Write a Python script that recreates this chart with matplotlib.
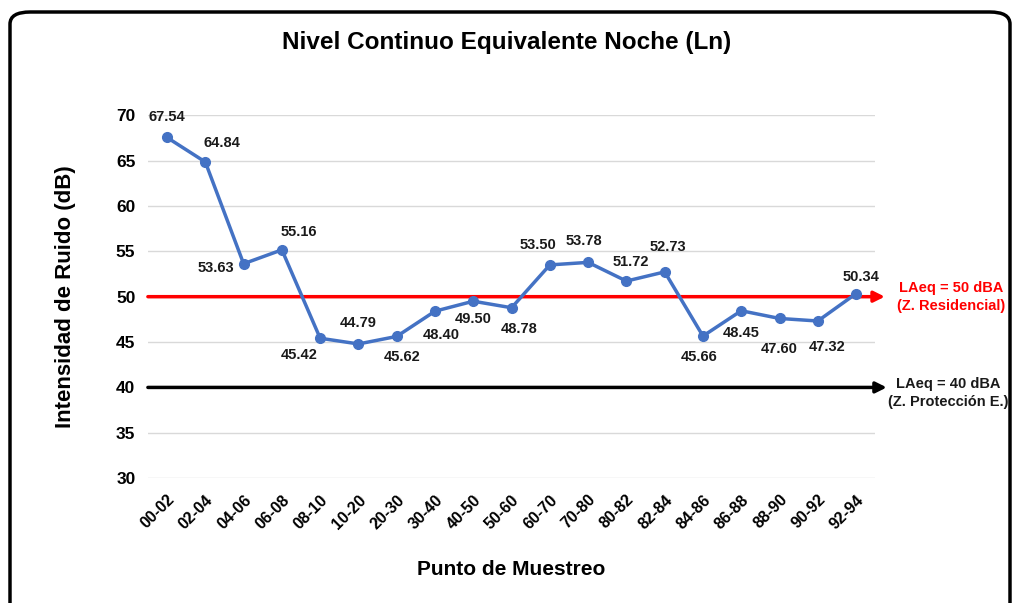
import matplotlib
matplotlib.use("Agg")
import matplotlib.pyplot as plt
from matplotlib.patches import FancyBboxPatch

plt.rcParams['font.family'] = ['Liberation Sans', 'DejaVu Sans']
plt.rcParams['font.weight'] = 'bold'

puntos = ['00-02', '02-04', '04-06', '06-08', '08-10', '10-20', '20-30', '30-40',
          '40-50', '50-60', '60-70', '70-80', '80-82', '82-84', '84-86', '86-88',
          '88-90', '90-92', '92-94']
ln_values = [67.54, 64.84, 53.63, 55.16, 45.42, 44.79, 45.62, 48.40, 49.50, 48.78,
             53.50, 53.78, 51.72, 52.73, 45.66, 48.45, 47.60, 47.32, 50.34]
limite_residencial = 50
limite_proteccion = 40

# label offsets in pixels (dx, dy)
offsets = [(0, 20), (17, 19), (-28, -4), (17, 18), (-21, -17), (0, 21), (5, -21),
           (6, -24), (0, -18), (8, -21), (-12, 20), (-4, 21), (4, 19), (3, 25),
           (-4, -21), (0, -22), (0, -31), (9, -26), (5, 17)]

fig = plt.figure(figsize=(10.13, 6.03), dpi=100)
ax = fig.add_axes([0.146, 0.207, 0.718, 0.602])

x = list(range(len(puntos)))
ax.plot(x, ln_values, color='#4472C4', lw=2.5, marker='o', markersize=7, zorder=3)

for xi, v, (dx, dy) in zip(x, ln_values, offsets):
    ax.annotate(f'{v:.2f}', (xi, v), xytext=(dx * 0.72, dy * 0.72),
                textcoords='offset points', ha='center', va='center',
                fontsize=10.5, fontweight='bold', color='#1a1a1a')

# limit lines with arrows
ax.annotate('', xy=(18.75, limite_residencial), xytext=(-0.5, limite_residencial),
            arrowprops=dict(arrowstyle='-|>', color='#FF0000', lw=2.5, mutation_scale=16,
                            shrinkA=0, shrinkB=0),
            annotation_clip=False, zorder=2)
ax.annotate('', xy=(18.8, limite_proteccion), xytext=(-0.5, limite_proteccion),
            arrowprops=dict(arrowstyle='-|>', color='black', lw=2.5, mutation_scale=16,
                            shrinkA=0, shrinkB=0),
            annotation_clip=False, zorder=2)

fig.text(951 / 1013, 1 - 297 / 603, 'LAeq = 50 dBA\n(Z. Residencial)', color='#FF0000',
         ha='center', va='center', fontsize=10.5, fontweight='bold', linespacing=1.3)
fig.text(948 / 1013, 1 - 393 / 603, 'LAeq = 40 dBA\n(Z. Protección E.)', color='#1a1a1a',
         ha='center', va='center', fontsize=10.5, fontweight='bold', linespacing=1.3)

ax.set_xlim(-0.5, len(puntos) - 0.5)
ax.set_ylim(30, 70)
ax.set_yticks(range(30, 71, 5))
ax.set_xticks(x)
ax.set_xticklabels(puntos, rotation=45, ha='right', rotation_mode='anchor')
ax.tick_params(axis='both', length=0)
ax.tick_params(axis='y', labelsize=12.5, pad=9)
ax.tick_params(axis='x', labelsize=11.5, pad=10)
ax.grid(axis='y', color='#D9D9D9', lw=1)
ax.set_axisbelow(True)
for s in ax.spines.values():
    s.set_visible(False)

ax.set_xlabel('Punto de Muestreo', fontsize=15, fontweight='bold', labelpad=20)
ax.set_ylabel('Intensidad de Ruido (dB)', fontsize=16, fontweight='bold', labelpad=29)
fig.text(0.5, 1 - 42 / 603, 'Nivel Continuo Equivalente Noche (Ln)', ha='center',
         va='center', fontsize=17.5, fontweight='bold')

border = FancyBboxPatch((10 / 1013, -20 / 603), 1000 / 1013, 611 / 603,
                        boxstyle='round,pad=0,rounding_size=0.02',
                        transform=fig.transFigure, facecolor='none',
                        edgecolor='black', lw=2.5)
fig.patches.append(border)

fig.savefig('out.png', dpi=100)
